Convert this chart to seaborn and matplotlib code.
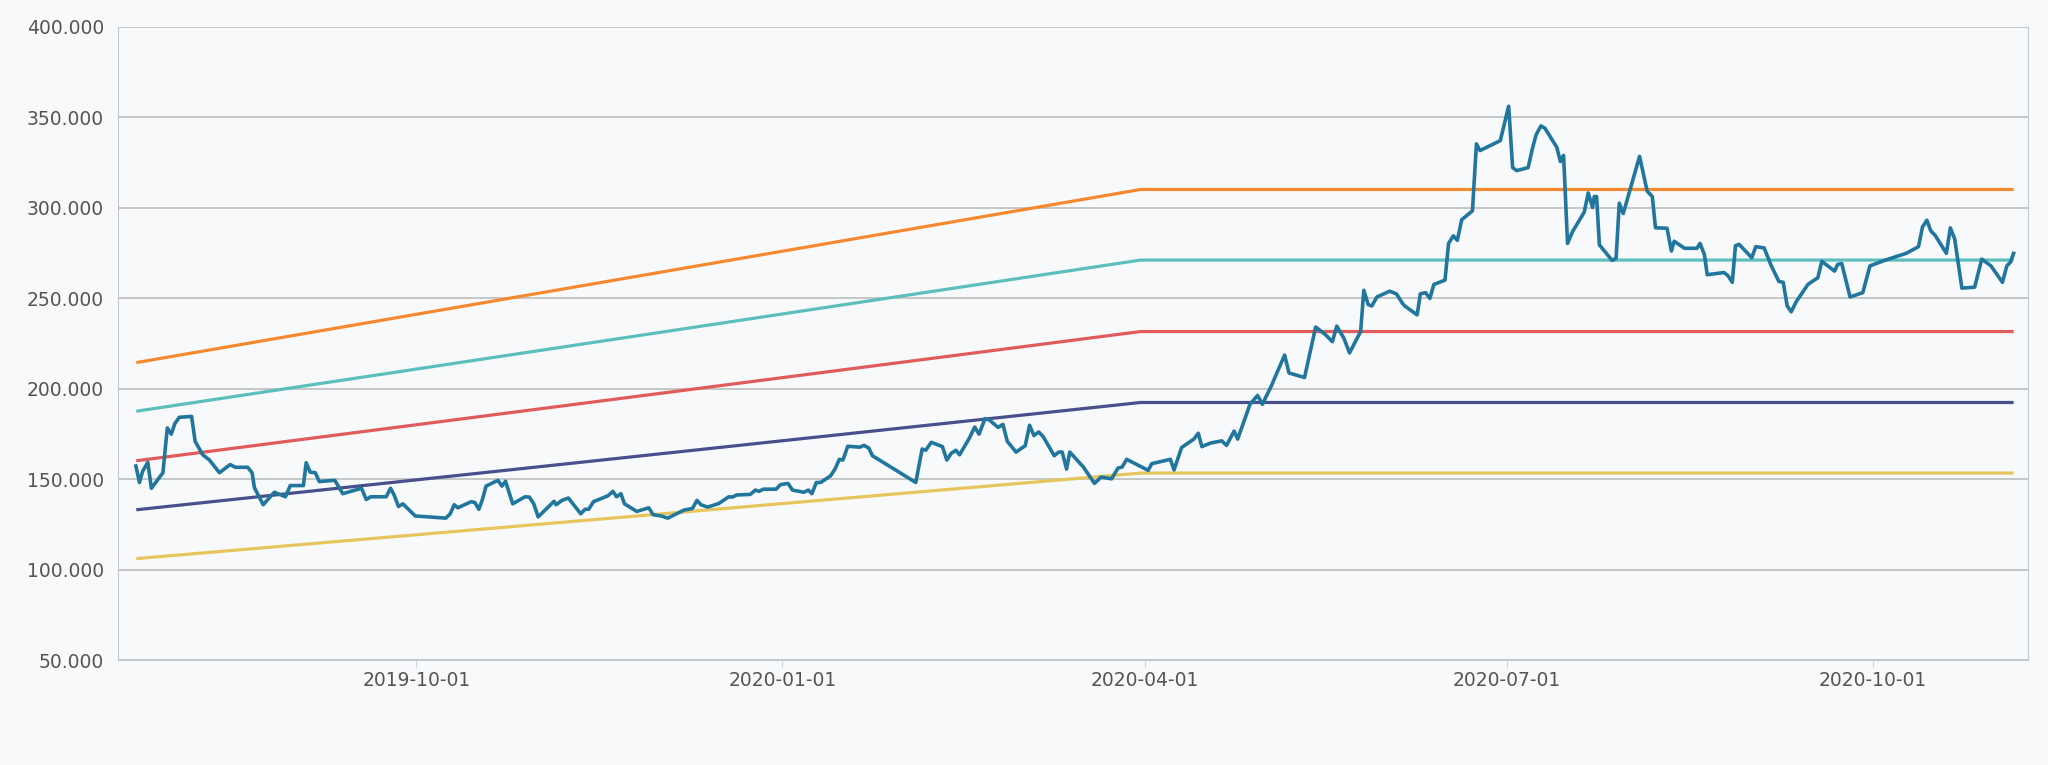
import pandas as pd
import numpy as np
import matplotlib
matplotlib.use("Agg")
import matplotlib.pyplot as plt
import matplotlib.dates as mdates
from matplotlib.ticker import FuncFormatter
import seaborn as sns

# дні від 2019-10-01 та значення основного ряду
base_date = "2019-10-01"
price_days = [
    -70.5, -69.6, -68.8, -67.5, -66.6, -63.7, -62.6, -61.6, -60.7, -59.6, -56.5, -55.6, -53.7, -52.0,
    -49.5, -46.8, -45.5, -42.4, -41.3, -40.7, -38.5, -35.7, -32.9, -31.7, -28.4, -27.7, -26.7, -25.4,
    -24.4, -20.5, -18.5, -13.8, -12.6, -11.5, -7.6, -6.5, -5.6, -4.5, -3.4, -0.3, 7.4, 8.5, 9.5, 10.4,
    13.8, 14.7, 15.7, 16.6, 17.5, 20.5, 21.5, 22.4, 24.2, 27.3, 28.4, 29.5, 30.6, 34.6, 35.1, 36.6,
    38.2, 41.3, 42.4, 43.3, 44.5, 48.1, 49.4, 50.3, 51.4, 52.3, 55.4, 58.4, 59.5, 61.5, 63.2, 64.9,
    67.2, 69.4, 70.5, 71.5, 73.2, 76.0, 78.5, 79.4, 80.5, 83.9, 85.2, 86.1, 87.2, 90.4, 91.5, 93.4,
    94.5, 97.4, 98.5, 99.4, 100.5, 101.6, 104.1, 105.2, 106.3, 107.2, 108.4, 111.4, 112.5, 113.7,
    114.6, 125.5, 127.1, 128.0, 129.4, 132.2, 133.3, 134.4, 135.6, 136.5, 138.9, 140.3, 141.4, 142.9,
    144.0, 146.2, 147.4, 148.5, 150.7, 153.0, 154.1, 155.2, 156.4, 157.5, 160.3, 161.4, 162.3, 163.4,
    164.2, 167.6, 170.4, 172.1, 174.7, 176.3, 177.4, 178.5, 182.2, 183.9, 184.8, 189.5, 190.4, 192.3,
    195.4, 196.5, 197.4, 199.6, 202.4, 203.6, 205.5, 206.4, 209.5, 211.4, 212.6, 214.8, 218.2, 219.3,
    223.2, 226.0, 228.3, 230.2, 231.3, 233.1, 234.5, 237.3, 238.1, 239.2, 240.1, 241.4, 244.6, 246.3,
    247.9, 248.4, 251.5, 252.3, 253.6, 254.7, 255.7, 258.5, 259.4, 260.6, 261.6, 262.7, 265.4, 266.4,
    267.3, 272.4, 274.5, 275.5, 276.5, 279.4, 280.4, 281.4, 282.6, 283.6, 285.2, 286.6, 287.5, 288.3,
    289.3, 290.6, 293.5, 294.5, 295.6, 296.0, 296.6, 297.3, 300.5, 301.5, 302.3, 303.3, 307.4, 309.3,
    310.6, 311.4, 314.3, 315.4, 316.1, 318.7, 321.8, 322.6, 323.7, 324.4, 328.6, 329.6, 330.7, 331.5,
    332.4, 335.6, 336.6, 338.7, 340.5, 342.4, 343.5, 344.5, 345.5, 346.8, 349.7, 350.8, 352.2, 353.2,
    356.4, 357.2, 358.2, 360.3, 363.5, 365.3, 369.2, 374.4, 377.5, 378.5, 379.6, 380.6, 381.7, 384.5,
    385.5, 386.6, 388.4, 391.6, 393.4, 395.7, 398.6, 399.7, 400.6, 401.4,
]
price_values = [
    157.3, 148.2, 154.4, 159.3, 145.0, 153.6, 178.3, 174.9, 180.8, 184.2, 184.7, 170.9, 163.5, 160.6,
    153.6, 158.1, 156.6, 156.6, 153.6, 145.3, 135.9, 142.8, 140.3, 146.5, 146.5, 159.1, 153.9, 153.6,
    148.7, 149.4, 142.0, 145.0, 138.8, 140.3, 140.3, 145.0, 141.3, 134.9, 136.4, 129.7, 128.5, 130.9,
    135.9, 134.2, 137.6, 137.1, 133.4, 138.8, 146.2, 149.4, 146.2, 148.9, 136.4, 140.3, 140.1, 136.4,
    129.2, 137.8, 135.9, 138.3, 139.6, 130.9, 133.4, 133.4, 137.6, 140.8, 143.3, 140.3, 142.0, 136.4,
    132.2, 134.2, 130.4, 129.7, 128.5, 130.4, 132.9, 133.9, 138.3, 135.9, 134.6, 136.6, 140.3, 140.1,
    141.3, 141.6, 144.0, 143.3, 144.5, 144.5, 147.0, 147.7, 144.0, 142.8, 144.0, 142.0, 148.2, 148.2,
    151.9, 155.6, 161.0, 160.6, 168.2, 167.7, 168.7, 167.2, 163.0, 148.2, 166.7, 166.0, 170.4, 168.0,
    160.6, 164.3, 166.0, 163.5, 172.4, 178.8, 174.9, 183.5, 182.7, 178.6, 180.3, 170.9, 165.0, 168.5,
    179.8, 174.1, 176.1, 173.6, 163.0, 165.0, 165.0, 155.6, 165.0, 156.8, 147.7, 151.2, 150.2, 156.1,
    156.8, 161.0, 156.8, 154.9, 158.6, 161.0, 155.1, 167.5, 172.2, 175.4, 168.0, 170.0, 171.2, 168.7,
    176.6, 172.2, 191.4, 196.3, 191.4, 201.3, 218.6, 208.7, 206.2, 234.1, 230.2, 226.0, 234.6, 227.9,
    219.8, 231.6, 254.4, 246.5, 245.7, 250.7, 253.9, 252.4, 246.9, 245.7, 240.8, 252.4, 253.1, 249.9,
    257.6, 260.0, 280.3, 284.5, 282.0, 293.4, 298.3, 335.3, 331.6, 337.1, 356.1, 322.2, 320.5, 322.2,
    332.1, 340.3, 345.2, 344.0, 338.3, 333.4, 325.5, 328.9, 280.3, 287.0, 297.6, 308.2, 300.1, 306.2,
    306.2, 279.5, 270.9, 272.1, 302.5, 296.8, 328.4, 309.2, 306.2, 288.9, 288.7, 276.1, 281.5, 277.6,
    277.6, 280.3, 274.1, 263.0, 264.2, 262.5, 258.8, 279.0, 279.8, 272.4, 278.5, 277.8, 267.9, 259.3,
    258.8, 245.7, 242.5, 248.2, 257.6, 259.3, 261.3, 270.4, 265.0, 268.7, 269.2, 250.7, 253.1, 267.9,
    271.1, 274.8, 278.5, 289.4, 293.1, 287.2, 284.7, 274.8, 288.9, 282.7, 255.6, 256.1, 271.6, 267.9,
    258.8, 267.9, 269.9, 274.8,
]

# опорні лінії: початок, злам, кінець
level_dates = ["2019-07-23", "2020-03-31", "2020-11-05"]
level_orange = [214.6, 310.1, 310.1]
level_teal = [187.7, 271.1, 271.1]
level_red = [160.3, 231.6, 231.6]
level_navy = [133.2, 192.4, 192.4]
level_yellow = [106.2, 153.4, 153.4]

bg = "#f8f9fb"
fig = plt.figure(figsize=(20.48, 7.65), dpi=100, facecolor=bg)
ax = fig.add_axes([0.0576, 0.137, 0.9326, 0.828], facecolor=bg)

price = pd.DataFrame({
    "date": pd.Timestamp(base_date) + pd.to_timedelta(price_days, unit="D"),
    "value": price_values,
})
lvl_x = pd.to_datetime(level_dates)
for vals, col in [(level_orange, "#f4892f"), (level_teal, "#5cbfbc"), (level_red, "#e05b5b"),
                  (level_navy, "#47508a"), (level_yellow, "#e6c65c")]:
    sns.lineplot(x=lvl_x, y=vals, color=col, lw=2.3, ax=ax)
sns.lineplot(data=price, x="date", y="value", color="#21769e", lw=2.6, ax=ax, estimator=None, sort=False)

ax.set_xlim(pd.Timestamp("2019-07-18"), pd.Timestamp("2020-11-09"))
ax.set_ylim(50, 400)
ax.set_yticks(np.arange(50, 401, 50))
ax.yaxis.set_major_formatter(FuncFormatter(lambda v, p: f"{v:.3f}"))
ax.set_xticks(pd.to_datetime(["2019-10-01", "2020-01-01", "2020-04-01", "2020-07-01", "2020-10-01"]))
ax.xaxis.set_major_formatter(mdates.DateFormatter("%Y-%m-%d"))
ax.grid(axis="y", color="#b8b8b8", lw=1.1)
ax.grid(axis="x", visible=False)
ax.set_axisbelow(True)
for s in ["left", "right", "bottom"]:
    ax.spines[s].set_color("#c2c8d0")
ax.spines["top"].set_visible(False)
ax.tick_params(axis="y", length=0, labelsize=13.5, labelcolor="#555555", pad=10)
ax.tick_params(axis="x", length=6, color="#c8d8e8", labelsize=13.5, labelcolor="#555555", pad=2)
ax.set_xlabel("")
ax.set_ylabel("")

fig.savefig("out.png", dpi=100, facecolor=bg)
